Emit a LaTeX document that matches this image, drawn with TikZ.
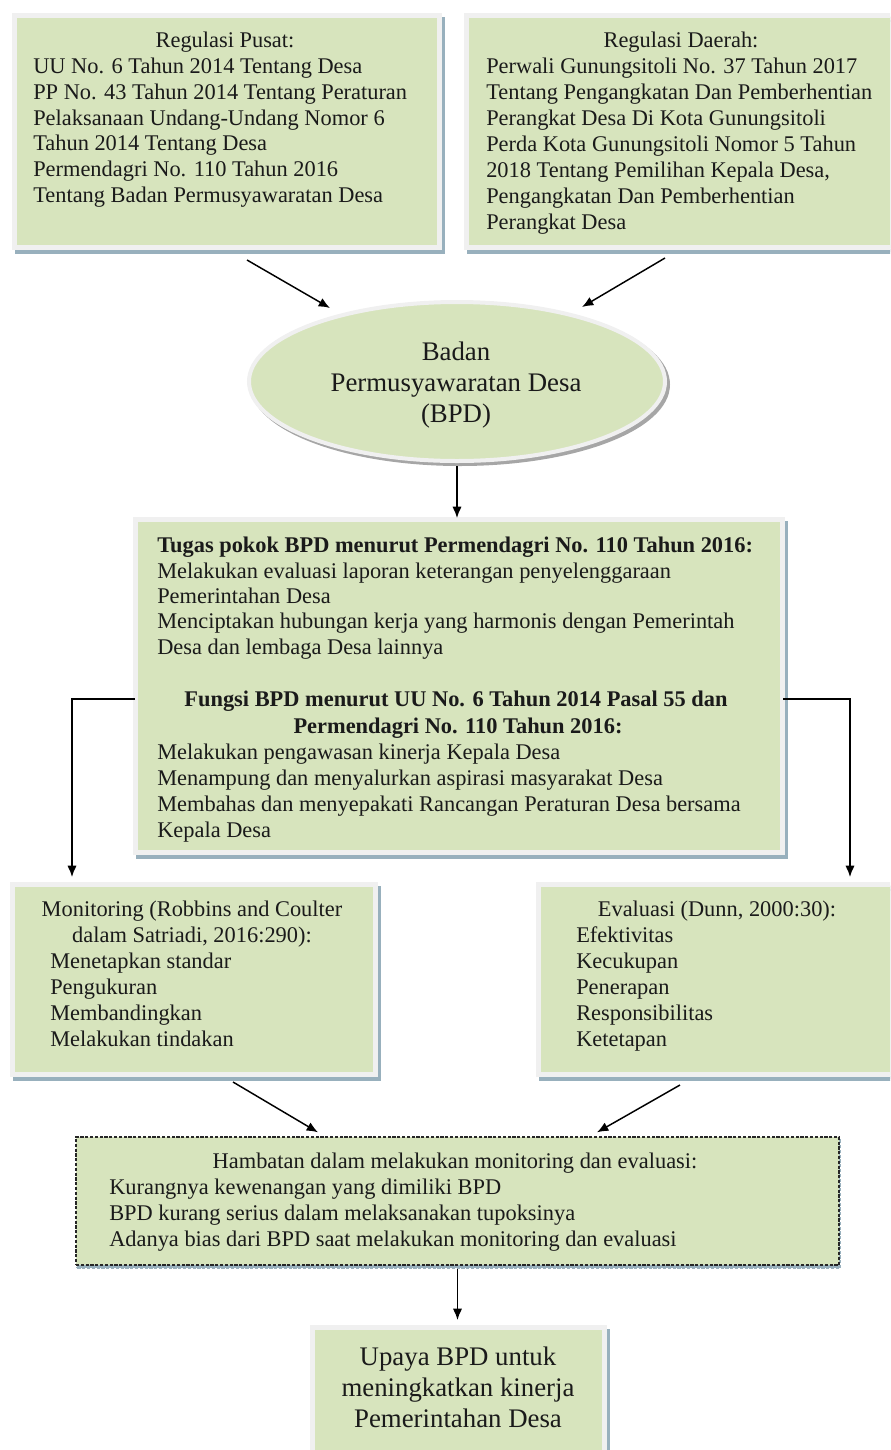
\documentclass[tikz,border=0pt]{standalone}
\usepackage{fontspec}
\setmainfont{Liberation Serif}
\usetikzlibrary{arrows.meta,calc,shapes.geometric,shadows}
\definecolor{gfill}{HTML}{D7E4BD}
\definecolor{bord}{HTML}{F0F0F0}
\definecolor{shb}{HTML}{98B0BD}
\definecolor{shg}{HTML}{A6A6A6}
\definecolor{txt}{HTML}{1A1A1A}
\begin{document}
\begin{tikzpicture}[x=0.75pt,y=-0.75pt,
  sz/.style 2 args={minimum width=#1*0.75pt, minimum height=#2*0.75pt},
  box/.style={draw=bord, line width=3.75pt, fill=gfill, inner sep=0pt,
    general shadow={fill=shb, draw=shb, line width=3.75pt, shadow xshift=2.25pt, shadow yshift=-3pt}},
  dbox/.style={draw=black!85, line width=1pt, dash pattern=on 2.4pt off 1.2pt, fill=gfill, inner sep=0pt,
    general shadow={fill=shb, draw=shb, line width=1.5pt, shadow xshift=1pt, shadow yshift=-2.5pt}},
  ebox/.style={ellipse, draw=bord, line width=3pt, fill=gfill, inner sep=0pt,
    general shadow={fill=shg, draw=shg, line width=3pt, shadow xshift=2.25pt, shadow yshift=-2.25pt}},
  ln/.style={anchor=base west, inner sep=0pt, text=txt, font=\fontsize{16.8}{19.5}\selectfont},
  hd/.style={anchor=base, inner sep=0pt, text=txt, font=\fontsize{16.8}{19.5}\selectfont},
  big/.style={anchor=base, inner sep=0pt, text=txt, font=\fontsize{20.1}{23}\selectfont},
  arr/.style={-{Latex[length=8.5pt,width=7pt]}, line width=1.1pt, black}]
\useasboundingbox (0,0) rectangle (890,1450);
\clip (0,0) rectangle (890,1450);

% boxes
\node[box, sz={425}{232}] (tl) at (227,131.5) {};
\node[box, sz={433.5}{232}] (tr) at (683.25,131.5) {};
\node[ebox, sz={416}{159}] (bpd) at (457,381.5) {};
\node[box, sz={647}{333}] (mid) at (459,686) {};
\node[box, sz={363}{190}] (mon) at (194,979.5) {};
\node[box, sz={361.5}{190}] (ev) at (719.25,979.5) {};
\node[dbox, sz={763}{128}] (hb) at (457.5,1201) {};
\node[box, sz={292}{142.5}] (up) at (458.5,1398.75) {};

% top-left text
\node[hd] (tl0) at (225,47) {Regulasi Pusat:};
\node[ln] (tl1) at (33,73) {UU No. 6 Tahun 2014 Tentang Desa};
\node[ln] (tl2) at (33,99) {PP No. 43 Tahun 2014 Tentang Peraturan};
\node[ln] (tl3) at (33,125) {Pelaksanaan Undang-Undang Nomor 6};
\node[ln] (tl4) at (33,150) {Tahun 2014 Tentang Desa};
\node[ln] (tl5) at (33,176) {Permendagri No. 110 Tahun 2016};
\node[ln] (tl6) at (33,202) {Tentang Badan Permusyawaratan Desa};

% top-right text
\node[hd] (tr0) at (681,47) {Regulasi Daerah:};
\node[ln] (tr1) at (486,73) {Perwali Gunungsitoli No. 37 Tahun 2017};
\node[ln] (tr2) at (486,99) {Tentang Pengangkatan Dan Pemberhentian};
\node[ln] (tr3) at (486,125) {Perangkat Desa Di Kota Gunungsitoli};
\node[ln] (tr4) at (486,151) {Perda Kota Gunungsitoli Nomor 5 Tahun};
\node[ln] (tr5) at (486,177) {2018 Tentang Pemilihan Kepala Desa,};
\node[ln] (tr6) at (486,203) {Pengangkatan Dan Pemberhentian};
\node[ln] (tr7) at (486,229) {Perangkat Desa};

% ellipse text
\node[big] (e1) at (456,360) {Badan};
\node[big] (e2) at (456,391) {Permusyawaratan Desa};
\node[big] (e3) at (456,422) {(BPD)};

% middle text
\node[ln] (m0) at (157,552) {\textbf{Tugas pokok BPD menurut Permendagri No. 110 Tahun 2016:}};
\node[ln] (m1) at (157,578) {Melakukan evaluasi laporan keterangan penyelenggaraan};
\node[ln] (m2) at (157,603) {Pemerintahan Desa};
\node[ln] (m3) at (157,628) {Menciptakan hubungan kerja yang harmonis dengan Pemerintah};
\node[ln] (m4) at (157,654) {Desa dan lembaga Desa lainnya};
\node[hd] (m5) at (456,706) {\textbf{Fungsi BPD menurut UU No. 6 Tahun 2014 Pasal 55 dan}};
\node[hd] (m6) at (458,733) {\textbf{Permendagri No. 110 Tahun 2016:}};
\node[ln] (m7) at (157,759) {Melakukan pengawasan kinerja Kepala Desa};
\node[ln] (m8) at (157,785) {Menampung dan menyalurkan aspirasi masyarakat Desa};
\node[ln] (m9) at (157,811) {Membahas dan menyepakati Rancangan Peraturan Desa bersama};
\node[ln] (m10) at (157,837) {Kepala Desa};

% monitoring text
\node[hd] (mo0) at (192,916) {Monitoring (Robbins and Coulter};
\node[hd] (mo1) at (192,942) {dalam Satriadi, 2016:290):};
\node[ln] (mo2) at (50,968) {Menetapkan standar};
\node[ln] (mo3) at (50,994) {Pengukuran};
\node[ln] (mo4) at (50,1020) {Membandingkan};
\node[ln] (mo5) at (50,1046) {Melakukan tindakan};

% evaluasi text
\node[hd] (ev0) at (717,916) {Evaluasi (Dunn, 2000:30):};
\node[ln] (ev1) at (576,942) {Efektivitas};
\node[ln] (ev2) at (576,968) {Kecukupan};
\node[ln] (ev3) at (576,994) {Penerapan};
\node[ln] (ev4) at (576,1020) {Responsibilitas};
\node[ln] (ev5) at (576,1046) {Ketetapan};

% hambatan text
\node[hd] (hb0) at (455,1168) {Hambatan dalam melakukan monitoring dan evaluasi:};
\node[ln] (hb1) at (109,1194) {Kurangnya kewenangan yang dimiliki BPD};
\node[ln] (hb2) at (109,1220) {BPD kurang serius dalam melaksanakan tupoksinya};
\node[ln] (hb3) at (109,1246) {Adanya bias dari BPD saat melakukan monitoring dan evaluasi};

% upaya text
\node[big] (up1) at (458,1365) {Upaya BPD untuk};
\node[big] (up2) at (458,1396) {meningkatkan kinerja};
\node[big] (up3) at (458,1427) {Pemerintahan Desa};

% connectors
\draw[arr] ($(tl.south)+(20,10)$) -- ($(bpd.center)+(-127,-73.5)$);
\draw[arr] ($(tr.south)+(-18.25,8)$) -- ($(bpd.center)+(125,-74.5)$);
\draw[arr] ($(bpd.south)+(0,3)$) -- ($(bpd.south |- mid.north)+(0,1)$);
\draw[arr] ($(mid.west)+(2,13)$) -| ($(mon.north)+(-122,-5)$);
\draw[arr] ($(mid.east)+(-2,13)$) -| ($(ev.north)+(130.75,-5)$);
\draw[arr] ($(mon.south)+(39,5)$) -- ($(hb.north)+(-139.5,-4)$);
\draw[arr] ($(ev.south)+(-39.25,8)$) -- ($(hb.north)+(139.5,-4)$);
\draw[arr] ($(hb.south)+(0,3)$) -- ($(hb.south |- up.north)+(0,-5)$);
\end{tikzpicture}
\end{document}
